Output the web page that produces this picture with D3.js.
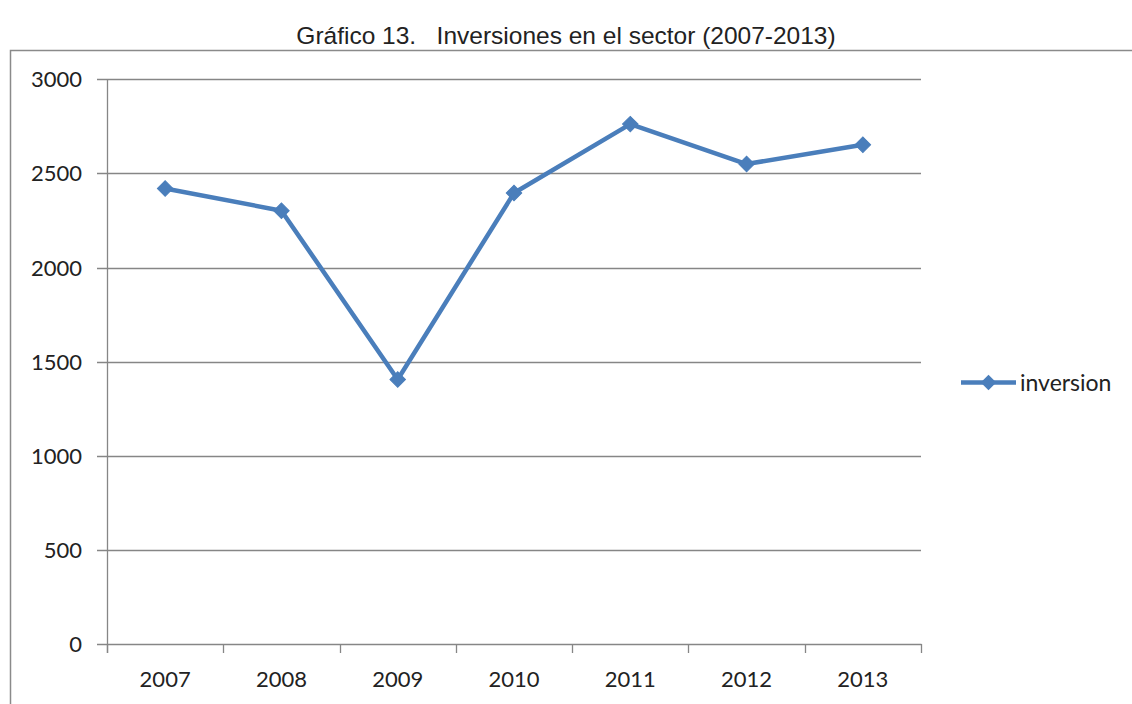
<!DOCTYPE html>
<html>
<head>
<meta charset="utf-8">
<script src="https://cdn.jsdelivr.net/npm/d3@7"></script>
<style>
  html, body { margin: 0; padding: 0; background: #ffffff; }
  svg { display: block; }
</style>
</head>
<body>
<svg id="chart" width="1132" height="704"></svg>
<script>
// Investment in the sector, 2007–2013
const years = ["2007", "2008", "2009", "2010", "2011", "2012", "2013"];
const inversion = [2420, 2302, 1405, 2396, 2762, 2550, 2652];
const yTicks = [0, 500, 1000, 1500, 2000, 2500, 3000];
const seriesName = "inversion";
const titleText = "Gráfico 13.   Inversiones en el sector (2007-2013)";

const svg = d3.select("#chart");
const W = 1132, H = 704;
const axisColor = "#868686";
const lineColor = "#4a7ebb";
const labelFont = "Lato, 'Open Sans', sans-serif";

// Title
svg.append("text")
  .attr("x", W / 2)
  .attr("y", 44)
  .attr("text-anchor", "middle")
  .attr("font-family", "'Liberation Sans', Arial, sans-serif")
  .attr("font-size", 24.5)
  .attr("fill", "#222")
  .style("white-space", "pre")
  .attr("xml:space", "preserve")
  .text(titleText);

// Chart frame (runs off the right and bottom edges)
svg.append("rect")
  .attr("x", 10.5).attr("y", 50.5)
  .attr("width", W + 20).attr("height", H)
  .attr("fill", "none")
  .attr("stroke", "#8a8a8a")
  .attr("stroke-width", 1.5);

// Plot area
const plot = { left: 107, right: 921, top: 79.3, bottom: 644 };

const x = d3.scaleBand()
  .domain(years)
  .range([plot.left, plot.right]);

const y = d3.scaleLinear()
  .domain([0, 3000])
  .range([plot.bottom, plot.top]);

// Horizontal gridlines with left tick stubs
const g = svg.append("g");
g.selectAll("line.grid")
  .data(yTicks.filter(d => d > 0))
  .join("line")
  .attr("class", "grid")
  .attr("x1", plot.left - 10).attr("x2", plot.right)
  .attr("y1", d => Math.round(y(d)) + 0.5)
  .attr("y2", d => Math.round(y(d)) + 0.5)
  .attr("stroke", axisColor)
  .attr("stroke-width", 1.3);

// Y axis line
g.append("line")
  .attr("x1", plot.left + 0.5).attr("x2", plot.left + 0.5)
  .attr("y1", y(3000)).attr("y2", y(0) + 9)
  .attr("stroke", axisColor).attr("stroke-width", 1.3);

// X axis line
g.append("line")
  .attr("x1", plot.left - 10).attr("x2", plot.right + 0.5)
  .attr("y1", Math.round(y(0)) + 0.5).attr("y2", Math.round(y(0)) + 0.5)
  .attr("stroke", axisColor).attr("stroke-width", 1.3);

// X tick marks at category boundaries
const boundaries = years.map(d => x(d)).concat([x(years[years.length - 1]) + x.bandwidth()]);
g.selectAll("line.xtick")
  .data(boundaries)
  .join("line")
  .attr("class", "xtick")
  .attr("x1", d => Math.round(d) + 0.5).attr("x2", d => Math.round(d) + 0.5)
  .attr("y1", y(0)).attr("y2", y(0) + 9)
  .attr("stroke", axisColor).attr("stroke-width", 1.3);

// Y tick labels
g.selectAll("text.ylab")
  .data(yTicks)
  .join("text")
  .attr("class", "ylab")
  .attr("x", 82)
  .attr("y", d => y(d) + 8)
  .attr("text-anchor", "end")
  .attr("font-family", labelFont)
  .attr("font-size", 22)
  .attr("fill", "#222")
  .text(d => d);

// X tick labels
g.selectAll("text.xlab")
  .data(years)
  .join("text")
  .attr("class", "xlab")
  .attr("x", d => x(d) + x.bandwidth() / 2)
  .attr("y", 687)
  .attr("text-anchor", "middle")
  .attr("font-family", labelFont)
  .attr("font-size", 22)
  .attr("fill", "#222")
  .text(d => d);

// Series line
const pts = years.map((yr, i) => [x(yr) + x.bandwidth() / 2, y(inversion[i])]);
svg.append("path")
  .attr("d", d3.line()(pts))
  .attr("fill", "none")
  .attr("stroke", lineColor)
  .attr("stroke-width", 4.5)
  .attr("stroke-linejoin", "round");

// Diamond markers
const diamond = d3.symbol().type(d3.symbolSquare).size(120);
svg.selectAll("path.marker")
  .data(pts)
  .join("path")
  .attr("class", "marker")
  .attr("d", diamond)
  .attr("transform", d => `translate(${d[0]},${d[1]}) rotate(45)`)
  .attr("fill", lineColor)
  .attr("stroke", lineColor)
  .attr("stroke-width", 1);

// Legend
const legY = 382.5;
svg.append("line")
  .attr("x1", 961).attr("x2", 1016)
  .attr("y1", legY).attr("y2", legY)
  .attr("stroke", lineColor).attr("stroke-width", 4.5);
svg.append("path")
  .attr("d", diamond)
  .attr("transform", `translate(988.5,${legY}) rotate(45)`)
  .attr("fill", lineColor);
svg.append("text")
  .attr("x", 1020)
  .attr("y", legY + 8)
  .attr("font-family", labelFont)
  .attr("font-size", 23)
  .attr("fill", "#222")
  .text(seriesName);
</script>
</body>
</html>
